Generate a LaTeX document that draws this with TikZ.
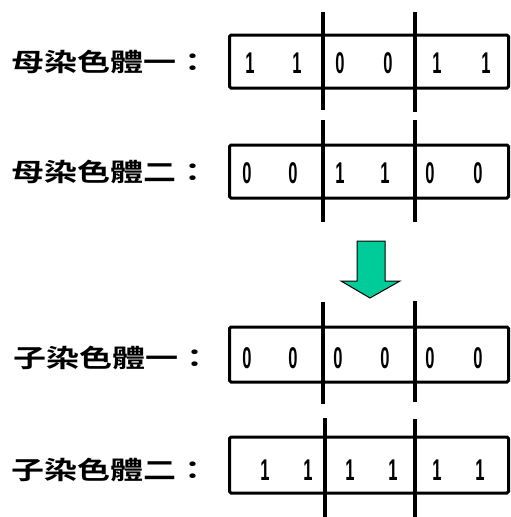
\documentclass[tikz,border=0pt]{standalone}
\usepackage{fontspec}
\newfontfamily\cjk{Noto Sans CJK TC}[BoldFont={Noto Sans CJK TC Bold}]
\newfontfamily\digfont{Liberation Sans}
\definecolor{arrowgreen}{RGB}{0,204,153}
\begin{document}
\begin{tikzpicture}[x=1pt,y=-1pt,
  box/.style={line width=3pt,rounded corners=1.5pt},
  sep/.style={line width=4pt},
  lbl/.style={anchor=west,inner sep=0pt,font=\cjk\bfseries\fontsize{25}{25}\selectfont},
  dig/.style={inner sep=0pt,font=\digfont\bfseries\fontsize{30}{30}\selectfont}]
\useasboundingbox (0,0) rectangle (511,517);
% labels
\node[lbl] (l1) at (11,62) {\scalebox{1.32}[1]{母染色體一：}};
\node[lbl] (l2) at (11,172) {\scalebox{1.32}[1]{母染色體二：}};
\node[lbl] (l3) at (13,358) {\scalebox{1.32}[1]{子染色體一：}};
\node[lbl] (l4) at (11,470) {\scalebox{1.32}[1]{子染色體二：}};
% boxes
\draw[box] (229.5,35) rectangle (508.5,88);
\draw[box] (229.5,145) rectangle (508.5,198);
\draw[box] (229.5,327) rectangle (508.5,382);
\draw[box] (229.5,437) rectangle (508.5,493);
% separators
\draw[sep] (323,12) -- (323,110);
\draw[sep] (415,12) -- (415,112);
\draw[sep] (323,120) -- (323,222);
\draw[sep] (415,120) -- (415,222);
\draw[sep] (323,302) -- (323,404);
\draw[sep] (415,301) -- (415,402);
\draw[sep] (325,418) -- (325,517);
\draw[sep] (415,419) -- (415,517);
% digits
\foreach \x/\d [count=\i] in {250/1,297/1,340/0,388/0,437/1,486/1}
  \node[dig] (a\i) at (\x,63) {\scalebox{0.55}[1]{\d}};
\foreach \x/\d [count=\i] in {247/0,293/0,340/1,385/1,430/0,478/0}
  \node[dig] (b\i) at (\x,173) {\scalebox{0.55}[1]{\d}};
\foreach \x/\d [count=\i] in {247/0,293/0,338/0,385/0,430/0,478/0}
  \node[dig] (c\i) at (\x,358) {\scalebox{0.55}[1]{\d}};
\foreach \x/\d [count=\i] in {265/1,308/1,350/1,393/1,437/1,480/1}
  \node[dig] (e\i) at (\x,470) {\scalebox{0.55}[1]{\d}};
% arrow
\draw[fill=arrowgreen,line width=1pt] (357,241) -- (385,241) -- (385,281) -- (400,281)
  -- (370,298) -- (341,281) -- (357,281) -- cycle;
\end{tikzpicture}
\end{document}
